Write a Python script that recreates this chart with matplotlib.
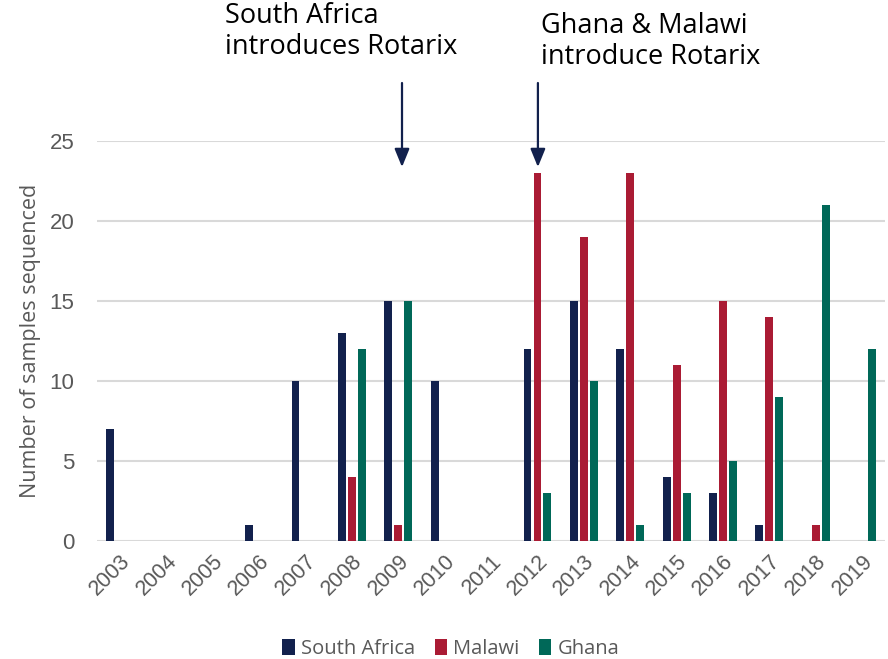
import numpy as np
import matplotlib
matplotlib.use("Agg")
import matplotlib.pyplot as plt

years = [str(y) for y in range(2003, 2020)]
south_africa = [7, 0, 0, 1, 10, 13, 15, 10, 0, 12, 15, 12, 4, 3, 1, 0, 0]
malawi = [0, 0, 0, 0, 0, 4, 1, 0, 0, 23, 19, 23, 11, 15, 14, 1, 0]
ghana = [0, 0, 0, 0, 0, 12, 15, 0, 0, 3, 10, 1, 3, 5, 9, 21, 12]

navy = "#12214d"
red = "#aa1b34"
green = "#006858"
grey = "#595959"

fig = plt.figure(figsize=(8.88, 6.59), dpi=100)
ax = fig.add_axes([0.109, 0.179, 0.888, 0.607])

x = np.arange(len(years))
w = 0.17
off = 0.215
ax.bar(x - off, south_africa, w, color=navy, label="South Africa", zorder=3)
ax.bar(x, malawi, w, color=red, label="Malawi", zorder=3)
ax.bar(x + off, ghana, w, color=green, label="Ghana", zorder=3)

ax.set_xlim(-0.5, len(years) - 0.5)
ax.set_ylim(0, 25)
ax.set_yticks([0, 5, 10, 15, 20, 25])
ax.yaxis.grid(True, color="#d9d9d9", linewidth=1.5, zorder=0)
ax.set_axisbelow(True)
for s in ax.spines.values():
    s.set_visible(False)
ax.tick_params(length=0)
ax.set_xticks(x)
ax.set_xticklabels(years, rotation=45, ha="right", rotation_mode="anchor",
                   fontsize=15.5, color=grey, family="Liberation Sans")
for lab in ax.get_yticklabels():
    lab.set_fontsize(16)
    lab.set_color(grey)
    lab.set_family("Liberation Sans")
ax.tick_params(axis="y", pad=16)
ax.tick_params(axis="x", pad=7)
ax.set_ylabel("Number of samples sequenced", fontsize=15.5, color=grey,
              family="Open Sans", labelpad=6)

# arrows for vaccine introductions
arrow = dict(arrowstyle="-|>,head_width=0.45,head_length=1.1", color=navy, lw=1.6)
ax.annotate("", xy=(6.08, 23.2), xytext=(6.08, 28.8), annotation_clip=False,
            arrowprops=arrow)
ax.annotate("", xy=(9.01, 23.2), xytext=(9.01, 28.8), annotation_clip=False,
            arrowprops=arrow)
fig.text(225 / 888, 1 - 2 / 659, "South Africa\nintroduces Rotarix", ha="left",
         va="top", fontsize=19.5, family="Open Sans", linespacing=1.15)
fig.text(541 / 888, 1 - 12 / 659, "Ghana & Malawi\nintroduce Rotarix", ha="left",
         va="top", fontsize=19.5, family="Open Sans", linespacing=1.15)

leg = ax.legend(loc="lower center", bbox_to_anchor=(0.449, -0.34), ncol=3,
                frameon=False, handlelength=0.6, handleheight=0.9,
                handletextpad=0.3, columnspacing=1.0,
                prop={"family": "Open Sans", "size": 14.5})
for t in leg.get_texts():
    t.set_color(grey)

fig.savefig("out.png", dpi=100)
